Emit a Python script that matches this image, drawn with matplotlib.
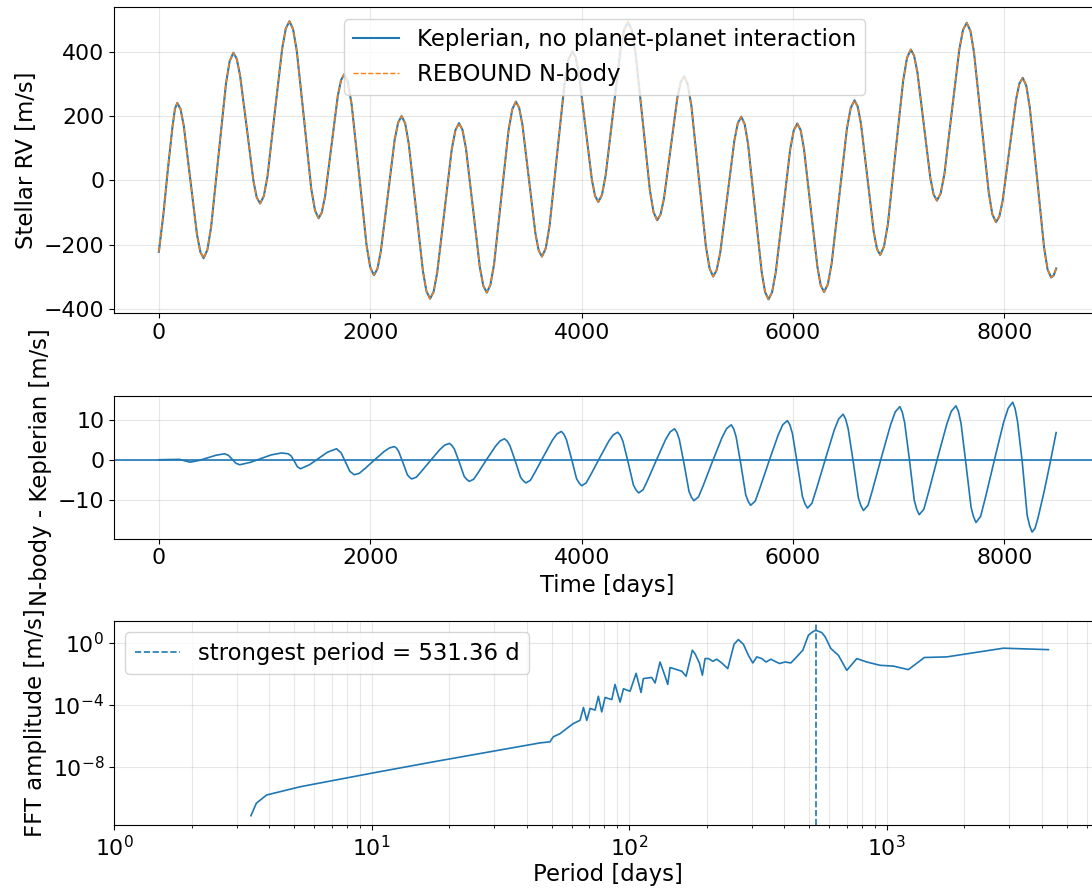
import numpy as np
import matplotlib.pyplot as plt
from matplotlib.gridspec import GridSpec

# ---- top panel: stellar RV ----
t_rv = [0, 43, 87, 130, 152,
        174, 205, 236, 299, 361, 393,
        424, 459, 494, 565, 635, 670,
        705, 737, 768, 832, 895, 926,
        958, 993, 1028, 1097, 1167, 1201,
        1236, 1270, 1305, 1374, 1442, 1477,
        1511, 1541, 1572, 1633, 1693, 1724,
        1754, 1789, 1824, 1895, 1965, 2000,
        2035, 2068, 2100, 2166, 2231, 2264,
        2297, 2331, 2364, 2432, 2499, 2532,
        2566, 2600, 2634, 2703, 2771, 2806,
        2840, 2873, 2906, 2972, 3037, 3070,
        3103, 3137, 3172, 3241, 3309, 3344,
        3378, 3409, 3440, 3502, 3563, 3594,
        3625, 3661, 3697, 3769, 3840, 3876,
        3912, 3943, 3974, 4035, 4097, 4127,
        4158, 4193, 4228, 4299, 4369, 4405,
        4440, 4474, 4509, 4578, 4646, 4681,
        4715, 4747, 4779, 4843, 4906, 4938,
        4970, 5004, 5039, 5108, 5176, 5211,
        5245, 5278, 5312, 5378, 5445, 5478,
        5511, 5543, 5575, 5640, 5704, 5736,
        5768, 5802, 5836, 5905, 5973, 6007,
        6041, 6073, 6104, 6168, 6231, 6262,
        6294, 6330, 6366, 6438, 6510, 6546,
        6582, 6612, 6643, 6704, 6764, 6795,
        6825, 6861, 6898, 6970, 7043, 7079,
        7115, 7146, 7177, 7239, 7300, 7331,
        7362, 7397, 7433, 7503, 7574, 7609,
        7644, 7679, 7713, 7783, 7852, 7886,
        7921, 7953, 7984, 8048, 8111, 8142,
        8174, 8208, 8241, 8309, 8376, 8409,
        8443, 8466, 8490]
rv_kepler = [-222, -105, 40, 170, 222,
             241, 222, 169, 0, -169, -223,
             -242, -216, -146, 78, 301, 371,
             397, 378, 327, 163, -2, -53,
             -72, -49, 13, 212, 410, 472,
             495, 470, 403, 189, -26, -93,
             -118, -100, -51, 106, 263, 312,
             330, 305, 236, 18, -201, -270,
             -295, -275, -221, -48, 126, 180,
             200, 177, 115, -84, -283, -345,
             -368, -346, -286, -95, 96, 156,
             178, 157, 99, -86, -270, -328,
             -349, -325, -260, -52, 156, 221,
             245, 226, 173, 4, -165, -218,
             -237, -211, -141, 83, 306, 376,
             402, 383, 332, 168, 3, -48,
             -67, -45, 17, 213, 409, 471,
             493, 468, 400, 185, -31, -99,
             -124, -106, -57, 100, 257, 306,
             324, 299, 231, 13, -205, -274,
             -299, -279, -224, -51, 123, 178,
             198, 175, 113, -86, -285, -347,
             -370, -348, -288, -97, 95, 155,
             177, 156, 98, -85, -268, -326,
             -347, -323, -258, -49, 160, 225,
             249, 230, 177, 9, -160, -213,
             -232, -206, -136, 88, 311, 381,
             407, 388, 337, 172, 7, -44,
             -63, -41, 20, 214, 407, 468,
             490, 465, 397, 180, -37, -105,
             -130, -112, -63, 95, 252, 301,
             319, 294, 226, 9, -209, -277,
             -302, -296, -274]
rv_nbody = list(rv_kepler)

# ---- middle panel: N-body minus Keplerian ----
t_diff = [0, 100, 196, 250, 297, 379, 460, 542, 623, 659, 694, 730, 765, 864, 963, 1061,
          1160, 1223, 1252, 1282, 1311, 1340, 1425, 1511, 1596, 1681, 1723, 1765, 1807, 1849,
          1896, 1944, 2039, 2133, 2181, 2228,
          2249, 2269, 2310, 2351, 2372, 2392,
          2437, 2481, 2571, 2660, 2704, 2749,
          2772, 2796, 2843, 2889, 2913, 2936,
          2978, 3020, 3103, 3187, 3228, 3270,
          3295, 3321, 3372, 3422, 3448, 3473,
          3515, 3557, 3641, 3724, 3766, 3808,
          3832, 3856, 3904, 3952, 3976, 4000,
          4043, 4085, 4171, 4256, 4298, 4341,
          4366, 4391, 4441, 4490, 4515, 4540,
          4582, 4625, 4710, 4794, 4837, 4879,
          4902, 4925, 4971, 5016, 5039, 5062,
          5106, 5151, 5239, 5328, 5372, 5416,
          5439, 5462, 5508, 5553, 5576, 5599,
          5643, 5686, 5773, 5860, 5903, 5947,
          5971, 5995, 6042, 6090, 6113, 6137,
          6179, 6221, 6306, 6390, 6432, 6474,
          6498, 6522, 6571, 6619, 6643, 6667,
          6710, 6753, 6839, 6925, 6968, 7011,
          7034, 7057, 7103, 7148, 7171, 7194,
          7238, 7281, 7368, 7455, 7498, 7542,
          7566, 7590, 7637, 7685, 7708, 7732,
          7775, 7819, 7906, 7992, 8036, 8079,
          8102, 8125, 8171, 8216, 8239, 8262,
          8290, 8319, 8376, 8433, 8490]
diff = [0.0, 0.05, 0.1, -0.3, -0.6, -0.18, 0.49, 1.14, 1.5, 1.09, 0.13, -0.89, -1.25, -0.66, 0.28, 1.2,
        1.7, 1.5, 0.94, -0.38, -1.76, -2.25, -1.25, 0.35, 1.9, 2.75, 1.78, -0.5, -2.9, -3.75,
        -3.4, -2.34, -0.08, 2.1, 2.95, 3.3,
        2.9, 2.08, -0.75, -3.75, -4.4, -4.8,
        -4.35, -3.02, -0.17, 2.59, 3.65, 4.1,
        3.6, 2.68, -0.65, -4.17, -4.9, -5.4,
        -4.9, -3.27, 0.14, 3.44, 4.7, 5.25,
        4.7, 3.59, -0.28, -4.36, -5.25, -5.8,
        -5.15, -3.22, 0.91, 4.91, 6.45, 7.1,
        6.4, 5.06, 0.3, -4.73, -5.8, -6.5,
        -5.8, -3.82, 0.47, 4.62, 6.2, 6.9,
        6.15, 4.62, -0.7, -6.32, -7.55, -8.3,
        -7.5, -5.09, 0.05, 5.02, 6.95, 7.75,
        6.85, 5.05, -1.25, -7.9, -9.35, -10.25,
        -9.3, -6.45, -0.37, 5.52, 7.8, 8.75,
        7.75, 5.73, -1.33, -8.78, -10.4, -11.4,
        -10.35, -7.16, -0.38, 6.2, 8.75, 9.8,
        8.7, 6.52, -1.15, -9.25, -11.0, -12.1,
        -10.9, -7.4, 0.12, 7.4, 10.2, 11.4,
        10.2, 7.78, -0.65, -9.57, -11.5, -12.7,
        -11.4, -7.5, 0.82, 8.88, 12.0, 13.3,
        11.95, 9.24, -0.23, -10.23, -12.4, -13.75,
        -12.4, -8.3, 0.42, 8.87, 12.15, 13.5,
        12.05, 9.12, -1.1, -11.9, -14.25, -15.7,
        -14.2, -9.68, -0.05, 9.28, 12.9, 14.4,
        12.8, 9.53, -1.0, -13.9, -16.5, -18.1,
        -17.2, -14.5, -8.0, -0.8, 6.8]

# ---- bottom panel: FFT amplitude of the difference ----
fft_period = [3.40, 3.57, 3.91, 5.27, 10.2, 17.4, 45.1, 49.3, 50.8, 54.0, 57.3, 60.8,
              64.5, 66.5, 68.5, 70.6, 73.8, 76.0, 78.3, 80.7, 85.7, 88.2, 92.3, 95.1,
              100.9, 106.5, 111.3, 113.6, 122.5, 126.2, 131.9, 138.0, 141.3, 144.3,
              153.2, 160.2, 166.5, 176.1, 180.4, 187.5, 192.6, 197.3, 203.2, 211.4,
              219.1, 229.1, 241.7, 255.7, 265.7, 277.9, 290.6, 302.3, 313.3, 327.6,
              340.4, 355.1, 383.5, 403.5, 424.6, 441.3, 472.7, 497.0, 515.1, 530.9,
              560.2, 577.2, 607.4, 649.8, 700.6, 766.1, 837.5, 943.5, 1062.7, 1215.0,
              1402.0, 1713.0, 2842.0, 4250.0]
fft_amp = [6.9e-12, 4.4e-11, 1.5e-10, 5.1e-10, 4.1e-09, 2.1e-08, 3.5e-07, 4.1e-07,
           8.7e-07, 1.4e-06, 3.0e-06, 6.3e-06, 1.0e-05, 6.8e-05, 1.0e-05, 5.9e-05,
           4.6e-05, 3.6e-04, 3.5e-05, 3.0e-04, 2.2e-04, 2.1e-03, 1.5e-04, 1.1e-03,
           7.6e-04, 1.1e-02, 6.3e-04, 5.0e-03, 5.9e-03, 2.6e-03, 5.9e-02, 7.1e-03,
           2.1e-03, 2.6e-02, 1.9e-02, 1.5e-02, 7.1e-03, 3.4e-01, 2.0e-01, 5.1e-02,
           8.3e-03, 9.8e-02, 9.8e-02, 6.6e-02, 8.9e-02, 5.1e-02, 2.2e-02, 8.3e-01,
           1.66, 8.3e-01, 1.6e-01, 5.1e-02, 1.26e-01, 9.8e-02, 5.9e-02, 8.9e-02,
           4.7e-02, 5.9e-02, 5.1e-02, 9.8e-02, 3.4e-01, 3.16, 5.1, 6.6, 4.7, 2.5,
           4.4e-01, 1.6e-01, 1.7e-02, 9.8e-02, 5.9e-02, 3.6e-02, 3.2e-02, 1.9e-02,
           1.15e-01, 1.26e-01, 4.6e-01, 3.7e-01]
strongest_period = 531.36

plt.rcParams['font.size'] = 16.4
plt.rcParams['xtick.labelsize'] = 15.8
plt.rcParams['ytick.labelsize'] = 15.8
fig = plt.figure(figsize=(10.92, 8.91), dpi=100)
gs = GridSpec(3, 1, figure=fig, height_ratios=[3, 1.4, 2],
              left=114 / 1092, right=1101 / 1092, top=1 - 7.3 / 891,
              bottom=1 - 825 / 891, hspace=0.379)
ax1 = fig.add_subplot(gs[0])
ax2 = fig.add_subplot(gs[1])
ax3 = fig.add_subplot(gs[2])

ax1.plot(t_rv, rv_kepler, color='C0', lw=1.5,
         label='Keplerian, no planet-planet interaction')
ax1.plot(t_rv, rv_nbody, color='C1', lw=1.0, ls='--', label='REBOUND N-body')
ax1.set_ylabel('Stellar RV [m/s]')
ax1.grid(True, alpha=0.3)
ax1.legend(loc='upper left', bbox_to_anchor=(344 / 1092, 1 - 19.3 / 891),
           bbox_transform=fig.transFigure, borderaxespad=0)

ax2.plot(t_diff, diff, color='C0', lw=1.2)
ax2.axhline(0, color='C0', lw=1.2)
ax2.set_xlabel('Time [days]')
ax2.set_ylabel('N-body - Keplerian [m/s]')
ax2.grid(True, alpha=0.3)

ax3.loglog(fft_period, fft_amp, color='C0', lw=1.2)
ax3.axvline(strongest_period, color='C0', ls='--', lw=1.2,
            label=f'strongest period = {strongest_period:.2f} d')
ax3.set_xlim(1, 6800)
ax3.set_xlabel('Period [days]', labelpad=2)
ax3.set_ylabel('FFT amplitude [m/s]')
ax3.grid(True, which='both', alpha=0.3)
ax3.legend(loc='upper left')

fig.savefig('out.png', dpi=100)
